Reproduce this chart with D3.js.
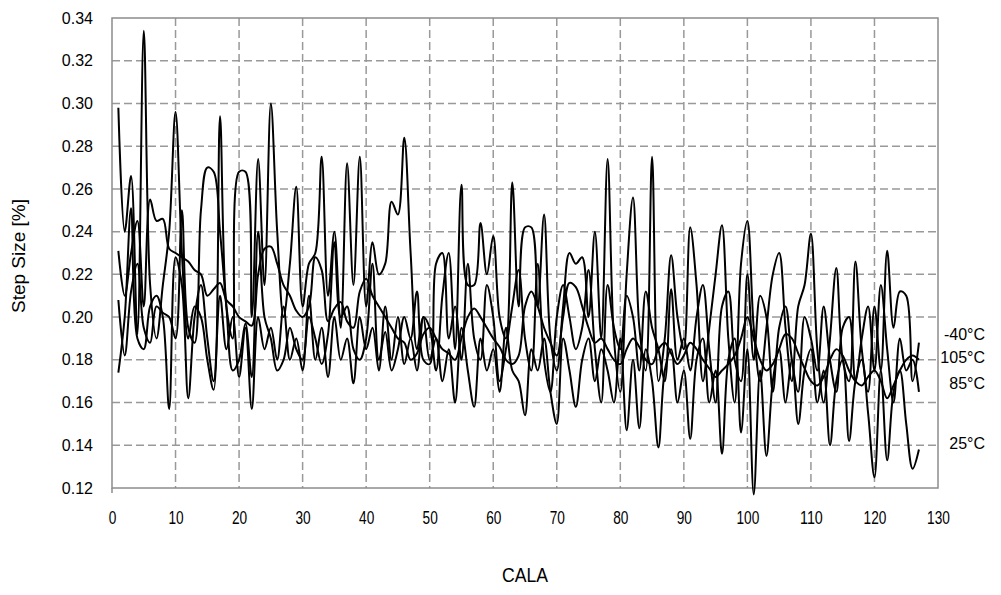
<!DOCTYPE html>
<html>
<head>
<meta charset="utf-8">
<script src="https://cdn.jsdelivr.net/npm/d3@7"></script>
<style>
html,body{margin:0;padding:0;background:#fff;}
svg text{font-family:"Liberation Sans",Arial,sans-serif;fill:#000;}
</style>
</head>
<body>
<svg id="chart" width="1001" height="595"></svg>
<script>
const xTicks = [0,10,20,30,40,50,60,70,80,90,100,110,120,130];
const yTicks = [0.12,0.14,0.16,0.18,0.20,0.22,0.24,0.26,0.28,0.30,0.32,0.34];
const seriesNames = ["-40°C","105°C","85°C","25°C"];
const labelValues = [0.192,0.181,0.169,0.141];

const sMinus40 = [0.298,0.240,0.266,0.192,0.334,0.215,0.190,0.215,0.240,0.296,0.230,0.190,0.205,0.200,0.180,0.166,0.294,0.205,0.190,0.268,
0.268,0.200,0.274,0.215,0.300,0.240,0.200,0.225,0.261,0.205,0.225,0.230,0.275,0.210,0.240,0.195,0.272,0.215,0.275,0.205,
0.235,0.220,0.225,0.254,0.248,0.284,0.230,0.185,0.200,0.195,0.175,0.210,0.230,0.185,0.262,0.215,0.215,0.244,0.220,0.238,
0.200,0.190,0.263,0.205,0.242,0.242,0.205,0.248,0.190,0.175,0.205,0.230,0.225,0.228,0.200,0.240,0.190,0.274,0.190,0.165,
0.220,0.256,0.195,0.175,0.275,0.170,0.190,0.229,0.200,0.185,0.242,0.215,0.170,0.195,0.220,0.243,0.190,0.160,0.225,0.245,
0.195,0.170,0.195,0.220,0.230,0.195,0.170,0.205,0.215,0.239,0.185,0.160,0.190,0.223,0.180,0.170,0.226,0.185,0.165,0.205,
0.175,0.231,0.195,0.212,0.210,0.170,0.188];

const s105 = [0.231,0.210,0.230,0.245,0.205,0.255,0.245,0.246,0.232,0.230,0.228,0.226,0.222,0.220,0.210,0.213,0.216,0.208,0.205,0.200,
0.198,0.196,0.220,0.232,0.233,0.225,0.215,0.210,0.203,0.200,0.205,0.228,0.222,0.198,0.204,0.207,0.198,0.195,0.212,0.218,
0.210,0.205,0.200,0.195,0.190,0.188,0.180,0.183,0.192,0.195,0.190,0.185,0.183,0.180,0.190,0.200,0.204,0.200,0.195,0.190,
0.186,0.180,0.178,0.182,0.205,0.212,0.205,0.195,0.188,0.182,0.200,0.216,0.214,0.205,0.195,0.188,0.190,0.185,0.180,0.178,
0.185,0.190,0.186,0.180,0.178,0.185,0.188,0.183,0.178,0.182,0.188,0.185,0.180,0.176,0.172,0.175,0.178,0.182,0.190,0.200,
0.190,0.180,0.175,0.178,0.185,0.192,0.190,0.183,0.176,0.170,0.168,0.172,0.180,0.185,0.182,0.175,0.170,0.168,0.172,0.175,
0.170,0.162,0.168,0.175,0.180,0.182,0.180];

const s85 = [0.208,0.182,0.212,0.225,0.195,0.188,0.205,0.202,0.200,0.190,0.250,0.195,0.188,0.250,0.270,0.268,0.240,0.205,0.175,0.180,
0.197,0.172,0.240,0.200,0.190,0.175,0.180,0.195,0.185,0.180,0.200,0.190,0.178,0.192,0.235,0.200,0.205,0.185,0.180,0.190,
0.225,0.180,0.193,0.175,0.185,0.200,0.190,0.212,0.180,0.178,0.225,0.230,0.190,0.205,0.180,0.225,0.190,0.180,0.215,0.200,
0.170,0.185,0.205,0.222,0.190,0.175,0.225,0.180,0.165,0.200,0.215,0.200,0.185,0.195,0.222,0.185,0.160,0.215,0.195,0.185,
0.210,0.200,0.175,0.212,0.195,0.185,0.170,0.213,0.180,0.190,0.175,0.200,0.215,0.185,0.160,0.205,0.212,0.180,0.170,0.220,
0.180,0.210,0.200,0.165,0.195,0.205,0.180,0.165,0.200,0.190,0.175,0.205,0.180,0.165,0.195,0.200,0.170,0.190,0.205,0.175,
0.215,0.185,0.160,0.190,0.175,0.180,0.165];

const s25 = [0.174,0.200,0.251,0.190,0.185,0.205,0.210,0.200,0.157,0.228,0.215,0.162,0.200,0.215,0.190,0.170,0.210,0.185,0.200,0.172,
0.195,0.157,0.200,0.185,0.195,0.180,0.205,0.180,0.190,0.175,0.210,0.180,0.195,0.172,0.200,0.180,0.190,0.169,0.200,0.185,
0.195,0.175,0.205,0.180,0.200,0.178,0.190,0.175,0.200,0.180,0.190,0.170,0.185,0.160,0.195,0.175,0.158,0.190,0.175,0.185,
0.165,0.195,0.175,0.170,0.154,0.185,0.175,0.190,0.165,0.150,0.190,0.175,0.158,0.180,0.190,0.170,0.185,0.175,0.160,0.190,
0.147,0.180,0.148,0.185,0.170,0.139,0.175,0.185,0.160,0.175,0.143,0.180,0.190,0.160,0.175,0.136,0.180,0.190,0.146,0.185,
0.117,0.175,0.135,0.170,0.185,0.160,0.180,0.150,0.175,0.185,0.160,0.175,0.140,0.170,0.180,0.142,0.170,0.180,0.155,0.125,
0.175,0.133,0.165,0.175,0.150,0.129,0.138];

const allSeries = [sMinus40, s105, s85, s25];

const svg = d3.select("#chart");
const mLeft = 112, mRight = 938, mTop = 18, mBottom = 488;
const x = d3.scaleLinear().domain([0,130]).range([mLeft,mRight]);
const y = d3.scaleLinear().domain([0.12,0.34]).range([mBottom,mTop]);

const gridColor = "#999";
svg.append("g").selectAll("line").data(yTicks.slice(1,-1)).join("line")
  .attr("x1",mLeft).attr("x2",mRight)
  .attr("y1",d=>y(d)).attr("y2",d=>y(d))
  .attr("stroke",gridColor).attr("stroke-width",1.5).attr("stroke-dasharray","8,4");
svg.append("g").selectAll("line").data(xTicks.slice(1,-1)).join("line")
  .attr("x1",d=>x(d)).attr("x2",d=>x(d))
  .attr("y1",mTop).attr("y2",mBottom)
  .attr("stroke",gridColor).attr("stroke-width",1.5).attr("stroke-dasharray","8,4");

svg.append("rect").attr("x",mLeft).attr("y",mTop).attr("width",mRight-mLeft).attr("height",mBottom-mTop)
  .attr("fill","none").attr("stroke","#8c8c8c").attr("stroke-width",1.5);
svg.append("line").attr("x1",mLeft).attr("x2",mLeft).attr("y1",mBottom).attr("y2",mBottom+5)
  .attr("stroke","#8c8c8c").attr("stroke-width",1.5);

const yAxis = d3.axisLeft(y).tickValues(yTicks).tickFormat(d3.format(".2f")).tickSize(0).tickPadding(19);
const gy = svg.append("g").attr("transform",`translate(${mLeft},0)`).call(yAxis);
gy.select(".domain").remove();
gy.selectAll("text").style("font-size","16px").style("font-family","'Liberation Sans',Arial,sans-serif").attr("fill","#000");

const xAxis = d3.axisBottom(x).tickValues(xTicks).tickFormat(d3.format("d")).tickSize(0).tickPadding(23);
const gx = svg.append("g").attr("transform",`translate(0,${mBottom})`).call(xAxis);
gx.select(".domain").remove();
gx.selectAll("text").style("font-size","18px").style("font-family","'Liberation Sans',Arial,sans-serif").attr("fill","#000")
  .attr("textLength",d=>String(d).length*7.6).attr("lengthAdjust","spacingAndGlyphs");

const line = d3.line().x((d,i)=>x(i+1)).y(d=>y(d)).curve(d3.curveCatmullRom.alpha(0.5));
svg.append("g").selectAll("path").data(allSeries).join("path")
  .attr("d",line).attr("fill","none").attr("stroke","#000").attr("stroke-width",2);

svg.append("g").selectAll("text").data(seriesNames).join("text")
  .attr("x",985).attr("y",(d,i)=>y(labelValues[i]))
  .attr("dy","0.35em").attr("text-anchor","end")
  .style("font-size","16px").text(d=>d);

svg.append("text").attr("transform","translate(25,256) rotate(-90)")
  .attr("text-anchor","middle").style("font-size","19px").text("Step Size [%]");
svg.append("text").attr("x",525).attr("y",582).attr("text-anchor","middle")
  .style("font-size","20px").attr("textLength",46).attr("lengthAdjust","spacingAndGlyphs").text("CALA");
</script>
</body>
</html>
